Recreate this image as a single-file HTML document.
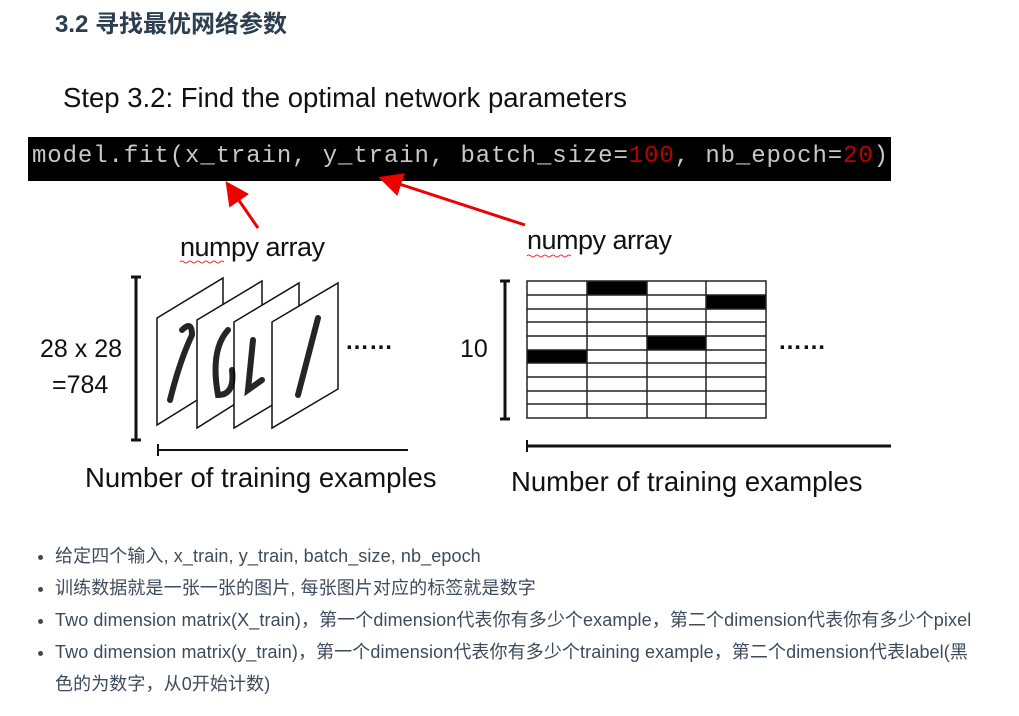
<!DOCTYPE html>
<html><head><meta charset="utf-8"><style>
body{margin:0;width:1019px;height:716px;background:#fff;position:relative;overflow:hidden;font-family:"Liberation Sans","Noto Sans CJK SC",sans-serif}
.a{position:absolute;white-space:nowrap}
ul{position:absolute;left:38px;top:540px;margin:0;padding:0 0 0 17px;list-style:disc;color:#3d4b5c;font-size:18px;line-height:32px;letter-spacing:0.1px}
</style></head><body>
<div class="a" style="left:55px;top:4px;font-size:24px;font-weight:bold;color:#2c3e50">3.2 寻找最优网络参数</div>
<div class="a" style="left:63px;top:82px;font-size:27.5px;color:#111">Step 3.2: Find the optimal network parameters</div>
<div class="a" style="left:28px;top:137px;width:863px;height:44px;background:#000"></div>
<div class="a" style="left:32px;top:143px;font-family:'Liberation Mono',monospace;font-size:24px;color:#c8c8c8;letter-spacing:0.9px">model.fit(x_train, y_train, batch_size=<span style="color:#b00">100</span>, nb_epoch=<span style="color:#b00">20</span>)</div>
<svg class="a" style="left:0;top:0" width="1019" height="716">
<defs><marker id="m" markerWidth="8" markerHeight="8" refX="6" refY="4" orient="auto"><path d="M0,0L8,4L0,8z" fill="#e00"/></marker></defs>
<line x1="258" y1="228" x2="229" y2="186" stroke="#e00" stroke-width="3" marker-end="url(#m)"/>
<line x1="525" y1="225" x2="384" y2="179" stroke="#e00" stroke-width="3" marker-end="url(#m)"/>
<g stroke="#111" stroke-width="3"><line x1="136" y1="277" x2="136" y2="440"/><line x1="131" y1="277" x2="141" y2="277"/><line x1="131" y1="440" x2="141" y2="440"/></g>
<g stroke="#111" stroke-width="1.5" fill="#fff">
<path d="M157,318L223,278L223,384L157,425z"/>
<path d="M197,320L262,281L262,387L197,428z"/>
<path d="M234,322L299,283L299,389L234,428z"/>
<path d="M272,322L338,283L338,389L272,428z"/>
</g>
<g stroke="#000" stroke-width="6" fill="none" stroke-linecap="round" opacity="0.85">
<path d="M182,330Q192,320 192,335Q180,360 170,400"/>
<path d="M228,330Q210,350 218,395Q235,395 232,370"/>
<path d="M253,340L248,390L262,380"/>
<path d="M318,318L298,395"/>
</g>
<line x1="158" y1="450" x2="408" y2="450" stroke="#111" stroke-width="2"/>
<line x1="158" y1="444" x2="158" y2="456" stroke="#111" stroke-width="2"/>
<g stroke="#111" stroke-width="3"><line x1="505" y1="281" x2="505" y2="419"/><line x1="500" y1="281" x2="510" y2="281"/><line x1="500" y1="419" x2="510" y2="419"/></g>
<g fill="#000"><rect x="587" y="281" width="60" height="14"/><rect x="706" y="295" width="60" height="14"/><rect x="647" y="336" width="59" height="14"/><rect x="527" y="350" width="60" height="13"/></g>
<g stroke="#222" stroke-width="1.5" fill="none">
<rect x="527" y="281" width="239" height="137"/>
<line x1="587" y1="281" x2="587" y2="418"/><line x1="647" y1="281" x2="647" y2="418"/><line x1="706" y1="281" x2="706" y2="418"/>
<line x1="527" y1="295" x2="766" y2="295"/><line x1="527" y1="309" x2="766" y2="309"/><line x1="527" y1="322" x2="766" y2="322"/><line x1="527" y1="336" x2="766" y2="336"/><line x1="527" y1="350" x2="766" y2="350"/><line x1="527" y1="363" x2="766" y2="363"/><line x1="527" y1="377" x2="766" y2="377"/><line x1="527" y1="391" x2="766" y2="391"/><line x1="527" y1="404" x2="766" y2="404"/>
</g>
<line x1="527" y1="446" x2="891" y2="446" stroke="#111" stroke-width="3"/>
<line x1="527" y1="440" x2="527" y2="452" stroke="#111" stroke-width="2"/>
<path d="M180,262q2,-2 4,0t4,0t4,0t4,0t4,0t4,0t4,0t4,0t4,0t4,0t4,0" stroke="#e33" fill="none" stroke-width="1"/>
<path d="M527,256q2,-2 4,0t4,0t4,0t4,0t4,0t4,0t4,0t4,0t4,0t4,0t4,0" stroke="#e33" fill="none" stroke-width="1"/>
</svg>
<div class="a" style="left:180px;top:232px;font-size:27px;color:#111;letter-spacing:-0.5px">numpy array</div>
<div class="a" style="left:527px;top:225px;font-size:27px;color:#111;letter-spacing:-0.5px">numpy array</div>
<div class="a" style="left:40px;top:335px;font-size:25px;color:#111">28 x 28</div>
<div class="a" style="left:52px;top:371px;font-size:25px;color:#111">=784</div>
<div class="a" style="left:345px;top:328px;font-size:24px;font-weight:bold;color:#111">……</div>
<div class="a" style="left:460px;top:335px;font-size:25px;color:#111">10</div>
<div class="a" style="left:778px;top:328px;font-size:24px;font-weight:bold;color:#111">……</div>
<div class="a" style="left:85px;top:462px;font-size:27.5px;color:#111">Number of training examples</div>
<div class="a" style="left:511px;top:466px;font-size:27.5px;color:#111">Number of training examples</div>
<ul>
<li>给定四个输入, x_train, y_train, batch_size, nb_epoch</li>
<li>训练数据就是一张一张的图片, 每张图片对应的标签就是数字</li>
<li>Two dimension matrix(X_train)，第一个dimension代表你有多少个example，第二个dimension代表你有多少个pixel</li>
<li>Two dimension matrix(y_train)，第一个dimension代表你有多少个training example，第二个dimension代表label(黑<br>色的为数字，从0开始计数)</li>
</ul>
</body></html>
